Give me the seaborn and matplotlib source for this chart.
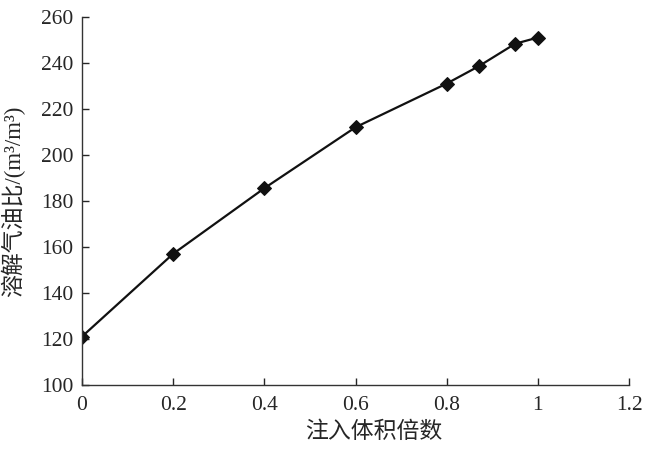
import pandas as pd
import matplotlib
matplotlib.use("Agg")
import matplotlib.pyplot as plt
import seaborn as sns

# data
volume = [0, 0.2, 0.4, 0.6, 0.8, 0.87, 0.95, 1.0]
gor = [121, 157, 185.5, 212, 231, 238.5, 248.3, 251]

df = pd.DataFrame({"volume": volume, "gor": gor})

sns.set_style("ticks")
plt.rcParams['font.family'] = ['Liberation Serif', 'Noto Sans CJK SC']

fig = plt.figure(figsize=(6.5, 4.54), dpi=100)
ax = fig.add_axes([0.126, 0.152, 0.842, 0.811])

sns.lineplot(data=df, x="volume", y="gor", color="#111111", linewidth=1.6,
             marker="D", markersize=7, markeredgecolor="#111111", ax=ax)

ax.set_xlim(0, 1.2)
ax.set_ylim(100, 260)
ax.set_xticks([0, 0.2, 0.4, 0.6, 0.8, 1.0, 1.2])
ax.set_xticklabels(["0", "0.2", "0.4", "0.6", "0.8", "1", "1.2"])
ax.set_yticks(range(100, 261, 20))
ax.tick_params(direction="in", length=5, width=1, labelsize=15.5)
ax.tick_params(axis="x", pad=8)
ax.tick_params(axis="y", pad=6)
for s in ["top", "right"]:
    ax.spines[s].set_visible(False)
for s in ["left", "bottom"]:
    ax.spines[s].set_color("#333333")
    ax.spines[s].set_linewidth(1)

ax.set_xlabel("注入体积倍数", fontsize=16.5)
ax.set_ylabel("溶解气油比/(m³/m³)", fontsize=16.5)
ax.xaxis.set_label_coords(0.534, -0.1)
ax.yaxis.set_label_coords(-0.104, 0.5)

fig.savefig("out.png", dpi=100)
